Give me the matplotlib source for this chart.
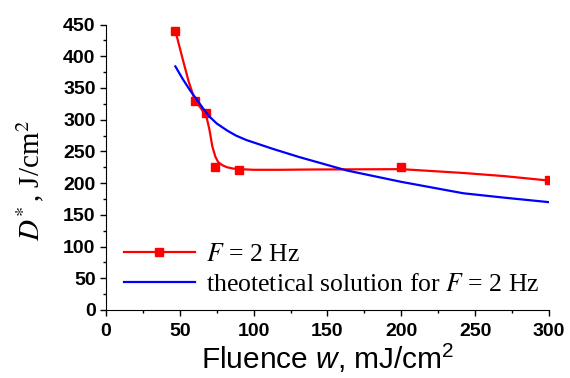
import matplotlib
matplotlib.use("Agg")
import matplotlib.pyplot as plt
from matplotlib.lines import Line2D
from matplotlib.font_manager import FontProperties
from matplotlib.ticker import MultipleLocator

# measured points, F = 2 Hz
fluence_pts = [47, 60, 68, 74, 90, 200, 300]
dose_pts = [440, 330, 310, 225, 220, 225, 205]

fit_x = [47, 52, 56, 60, 64, 68, 70, 72, 74, 76, 79, 82, 86, 91, 100, 118, 140, 163, 200, 242, 270, 300]
fit_y = [440, 395, 360, 332, 319, 305, 285, 258, 242, 233, 228, 225, 223, 222, 221, 221, 221.5, 221.7, 222, 216, 211, 204]

# theoretical solution for F = 2 Hz
theory_x = [47, 52, 57, 62, 66, 70, 75, 82, 88, 95, 104, 113, 131, 163, 200, 242, 270, 300]
theory_y = [384, 364, 346, 330, 317, 305, 294, 283, 275, 268, 261, 254, 241, 220, 202, 184, 177, 170]

x_ticks = [0, 50, 100, 150, 200, 250, 300]
y_ticks = [0, 50, 100, 150, 200, 250, 300, 350, 400, 450]

plt.rcParams["font.family"] = "Liberation Sans"
plt.rcParams["mathtext.fontset"] = "custom"
plt.rcParams["mathtext.it"] = "Liberation Sans:italic"
plt.rcParams["mathtext.rm"] = "Liberation Sans"

fig = plt.figure(figsize=(5.7, 3.78), dpi=100)
ax = fig.add_axes([0.186, 0.18, 0.777, 0.755])

ax.plot(fit_x, fit_y, color="red", lw=1.6)
ax.plot(fluence_pts, dose_pts, ls="none", marker="s", ms=6, color="red")
ax.plot(theory_x, theory_y, color="blue", lw=1.6)

ax.set_xlim(0, 300)
ax.set_ylim(0, 450)
ax.set_xticks(x_ticks)
ax.set_xticklabels([str(t) for t in x_ticks], fontweight="bold", fontsize=14)
ax.set_yticks(y_ticks)
ax.set_yticklabels([str(t) for t in y_ticks], fontweight="bold", fontsize=14)
ax.xaxis.set_minor_locator(MultipleLocator(25))
ax.yaxis.set_minor_locator(MultipleLocator(25))
ax.spines["top"].set_visible(False)
ax.spines["right"].set_visible(False)
ax.tick_params(which="major", direction="out", length=4.5, width=1)
ax.tick_params(which="minor", direction="out", length=2.5, width=1)
ax.tick_params(axis="x", pad=5)
ax.tick_params(axis="y", pad=3)

ax.set_xlabel(r"Fluence $w$, mJ/cm$^2$", fontsize=21.5, labelpad=1)
ax.set_ylabel(r"$D^{\!*}$, J/cm$^2$",
              fontproperties=FontProperties(family="Liberation Serif", size=21, math_fontfamily="stix"))
ax.yaxis.set_label_coords(-0.135, 0.455)

handles = [
    Line2D([], [], color="red", lw=1.6, marker="s", ms=5.5),
    Line2D([], [], color="blue", lw=1.6),
]
labels = [r"$F$ = 2 Hz", r"theotetical solution for $F$ = 2 Hz"]
ax.legend(handles, labels, loc="lower left", bbox_to_anchor=(0.0, -0.015), frameon=False,
          prop=FontProperties(family="Liberation Serif", size=18.5, math_fontfamily="stix"),
          handlelength=2.75, handletextpad=0.45, labelspacing=0.28, borderaxespad=0.3)

fig.savefig("out.png", dpi=100)
